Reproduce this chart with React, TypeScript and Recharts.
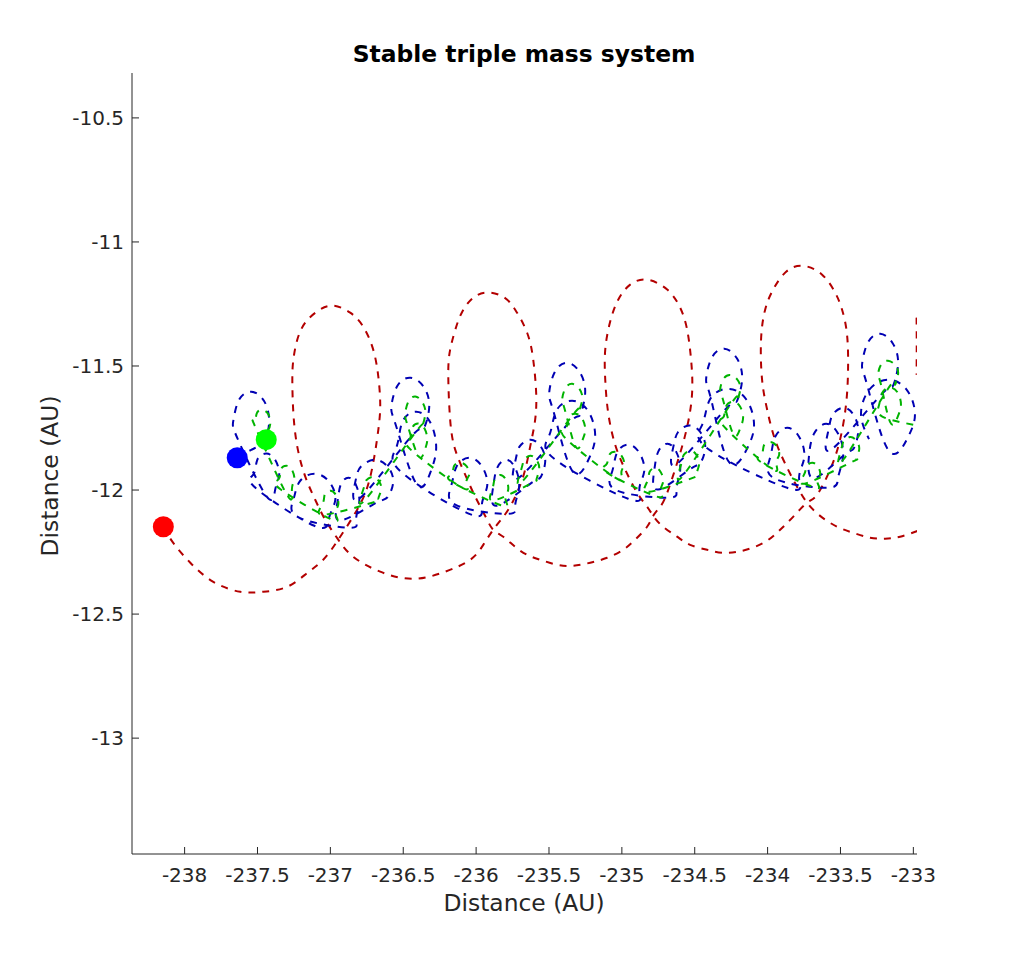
import { ScatterChart, Scatter, XAxis, YAxis } from "recharts"

const xTicks = [-238, -237.5, -237, -236.5, -236, -235.5, -235, -234.5, -234, -233.5, -233]
const yTicks = [-13, -12.5, -12, -11.5, -11, -10.5]

// positions in AU
const redStart = [[-238.146, -12.148]]
const blueStart = [[-237.639, -11.87]]
const greenStart = [[-237.44, -11.797]]

const redPath = [
  [-238.146, -12.148], [-238.078, -12.213], [-237.961, -12.293], [-237.803, -12.37], [-237.618, -12.41],
  [-237.46, -12.41], [-237.296, -12.39], [-237.158, -12.334], [-237.049, -12.281], [-236.946, -12.2],
  [-236.816, -12.079], [-236.726, -11.946], [-236.671, -11.757], [-236.658, -11.648], [-236.671, -11.543],
  [-236.706, -11.434], [-236.774, -11.342], [-236.864, -11.285], [-236.98, -11.257], [-237.083, -11.277],
  [-237.172, -11.325], [-237.227, -11.394], [-237.254, -11.475], [-237.261, -11.555], [-237.254, -11.688],
  [-237.227, -11.825], [-237.172, -11.946], [-237.104, -12.039], [-237.035, -12.12], [-236.946, -12.2],
  [-236.843, -12.269], [-236.658, -12.329], [-236.431, -12.358], [-236.212, -12.329], [-236.04, -12.281],
  [-235.951, -12.221], [-235.883, -12.16], [-235.814, -12.108], [-235.752, -12.051], [-235.677, -11.946],
  [-235.629, -11.825], [-235.595, -11.717], [-235.588, -11.608], [-235.608, -11.475], [-235.65, -11.366],
  [-235.732, -11.273], [-235.814, -11.221], [-235.924, -11.204], [-236.02, -11.225], [-236.095, -11.281],
  [-236.143, -11.354], [-236.178, -11.434], [-236.191, -11.535], [-236.178, -11.717], [-236.143, -11.838],
  [-236.075, -11.938], [-236.006, -12.027], [-235.931, -12.112], [-235.883, -12.16], [-235.814, -12.188],
  [-235.732, -12.229], [-235.65, -12.261], [-235.56, -12.281], [-235.444, -12.301], [-235.334, -12.305],
  [-235.217, -12.293], [-235.101, -12.273], [-234.991, -12.241], [-234.909, -12.2], [-234.827, -12.148],
  [-234.785, -12.104], [-234.737, -12.067], [-234.689, -12.011], [-234.614, -11.878], [-234.552, -11.745],
  [-234.518, -11.608], [-234.525, -11.475], [-234.552, -11.354], [-234.6, -11.265], [-234.689, -11.192],
  [-234.827, -11.152], [-234.943, -11.172], [-235.025, -11.233], [-235.08, -11.321], [-235.114, -11.434],
  [-235.114, -11.555], [-235.094, -11.688], [-235.046, -11.817], [-234.977, -11.918], [-234.895, -12.011],
  [-234.827, -12.067], [-234.785, -12.104], [-234.717, -12.148], [-234.621, -12.188], [-234.532, -12.221],
  [-234.415, -12.241], [-234.312, -12.253], [-234.209, -12.249], [-234.106, -12.233], [-234.003, -12.204],
  [-233.914, -12.16], [-233.825, -12.108], [-233.729, -12.051], [-233.661, -12.019], [-233.571, -11.918],
  [-233.503, -11.797], [-233.462, -11.656], [-233.448, -11.515], [-233.455, -11.374], [-233.489, -11.273],
  [-233.537, -11.204], [-233.626, -11.132], [-233.757, -11.096], [-233.873, -11.12], [-233.962, -11.192],
  [-234.017, -11.273], [-234.045, -11.394], [-234.038, -11.555], [-234.003, -11.676], [-233.949, -11.797],
  [-233.866, -11.91], [-233.798, -11.987], [-233.729, -12.051], [-233.64, -12.104], [-233.523, -12.148],
  [-233.414, -12.172], [-233.297, -12.192], [-233.194, -12.196], [-233.091, -12.188], [-232.968, -12.164],
]

// bit of the next red loop that shows at the right edge
const redEdge = [[-232.978, -11.305], [-232.977, -11.414], [-232.978, -11.535]]

const bluePath = [
  [-237.639, -11.87],
  [-237.543, -11.838], [-237.457, -11.803], [-237.42, -11.721], [-237.457, -11.639], [-237.543, -11.604], [-237.629, -11.639], [-237.666, -11.721], [-237.629, -11.803],
  [-237.44, -12.023], [-237.378, -11.997], [-237.351, -11.938], [-237.378, -11.879], [-237.44, -11.853], [-237.502, -11.879], [-237.529, -11.938], [-237.502, -11.997],
  [-237.11, -12.144], [-237.009, -12.112], [-236.966, -12.039], [-237.009, -11.966], [-237.11, -11.934], [-237.211, -11.966], [-237.254, -12.039], [-237.211, -12.112],
  [-236.877, -12.152], [-236.824, -12.122], [-236.802, -12.051], [-236.824, -11.98], [-236.877, -11.95], [-236.93, -11.98], [-236.952, -12.051], [-236.93, -12.122],
  [-236.699, -12.056], [-236.608, -12.029], [-236.569, -11.967], [-236.608, -11.905], [-236.699, -11.878], [-236.79, -11.905], [-236.829, -11.967], [-236.79, -12.029],
  [-236.452, -11.789], [-236.361, -11.753], [-236.322, -11.668], [-236.361, -11.583], [-236.452, -11.547], [-236.543, -11.583], [-236.582, -11.668], [-236.543, -11.753],
  [-236.411, -11.974], [-236.315, -11.931], [-236.274, -11.829], [-236.315, -11.727], [-236.411, -11.684], [-236.507, -11.727], [-236.548, -11.829], [-236.507, -11.931],
  [-236.047, -12.096], [-235.961, -12.062], [-235.924, -11.983], [-235.961, -11.904], [-236.047, -11.87], [-236.133, -11.904], [-236.171, -11.983], [-236.133, -12.062],
  [-235.794, -12.096], [-235.732, -12.063], [-235.705, -11.987], [-235.732, -11.911], [-235.794, -11.878], [-235.856, -11.911], [-235.883, -11.987], [-235.856, -12.063],
  [-235.629, -11.975], [-235.557, -11.948], [-235.526, -11.886], [-235.557, -11.824], [-235.629, -11.797], [-235.701, -11.824], [-235.732, -11.886], [-235.701, -11.948],
  [-235.375, -11.737], [-235.289, -11.7], [-235.252, -11.612], [-235.289, -11.525], [-235.375, -11.487], [-235.461, -11.525], [-235.499, -11.612], [-235.461, -11.7],
  [-235.341, -11.922], [-235.231, -11.88], [-235.183, -11.781], [-235.231, -11.682], [-235.341, -11.64], [-235.451, -11.682], [-235.499, -11.781], [-235.451, -11.88],
  [-234.957, -12.035], [-234.88, -12.002], [-234.847, -11.926], [-234.88, -11.85], [-234.957, -11.817], [-235.034, -11.85], [-235.067, -11.926], [-235.034, -12.002],
  [-234.689, -12.031], [-234.627, -11.998], [-234.6, -11.922], [-234.627, -11.846], [-234.689, -11.813], [-234.751, -11.846], [-234.778, -11.922], [-234.751, -11.998],
  [-234.538, -11.918], [-234.461, -11.891], [-234.428, -11.829], [-234.461, -11.767], [-234.538, -11.74], [-234.615, -11.767], [-234.648, -11.829], [-234.615, -11.891],
  [-234.298, -11.68], [-234.212, -11.643], [-234.175, -11.555], [-234.212, -11.468], [-234.298, -11.43], [-234.384, -11.468], [-234.422, -11.555], [-234.384, -11.643],
  [-234.271, -11.882], [-234.146, -11.839], [-234.093, -11.737], [-234.146, -11.635], [-234.271, -11.592], [-234.396, -11.635], [-234.449, -11.737], [-234.396, -11.839],
  [-233.866, -11.991], [-233.784, -11.955], [-233.749, -11.87], [-233.784, -11.785], [-233.866, -11.749], [-233.948, -11.785], [-233.983, -11.87], [-233.948, -11.955],
  [-233.599, -11.991], [-233.517, -11.952], [-233.482, -11.862], [-233.517, -11.772], [-233.599, -11.733], [-233.681, -11.772], [-233.716, -11.862], [-233.681, -11.952],
  [-233.482, -11.862], [-233.41, -11.833], [-233.379, -11.765], [-233.41, -11.697], [-233.482, -11.668], [-233.554, -11.697], [-233.585, -11.765], [-233.554, -11.833],
  [-233.228, -11.62], [-233.142, -11.583], [-233.105, -11.495], [-233.142, -11.408], [-233.228, -11.37], [-233.314, -11.408], [-233.352, -11.495], [-233.314, -11.583],
  [-233.174, -11.837], [-233.044, -11.795], [-232.989, -11.696], [-233.044, -11.597], [-233.174, -11.555], [-233.304, -11.597], [-233.359, -11.696], [-233.304, -11.795],
]

const greenPath = [
  [-237.44, -11.797],
  [-237.467, -11.773], [-237.429, -11.759], [-237.412, -11.725], [-237.429, -11.691], [-237.467, -11.677], [-237.505, -11.691], [-237.522, -11.725], [-237.505, -11.759],
  [-237.302, -12.015], [-237.264, -11.998], [-237.247, -11.958], [-237.264, -11.918], [-237.302, -11.902], [-237.34, -11.918], [-237.357, -11.958], [-237.34, -11.998],
  [-237.001, -12.116], [-236.963, -12.099], [-236.946, -12.059], [-236.963, -12.019], [-237.001, -12.003], [-237.039, -12.019], [-237.056, -12.059], [-237.039, -12.099],
  [-236.713, -12.051], [-236.67, -12.036], [-236.651, -11.999], [-236.67, -11.962], [-236.713, -11.947], [-236.756, -11.962], [-236.775, -11.999], [-236.756, -12.036],
  [-236.418, -11.769], [-236.37, -11.747], [-236.349, -11.696], [-236.37, -11.645], [-236.418, -11.623], [-236.466, -11.645], [-236.487, -11.696], [-236.466, -11.747],
  [-236.397, -11.862], [-236.354, -11.842], [-236.335, -11.797], [-236.354, -11.752], [-236.397, -11.732], [-236.44, -11.752], [-236.459, -11.797], [-236.44, -11.842],
  [-236.109, -11.986], [-236.066, -11.972], [-236.047, -11.938], [-236.066, -11.904], [-236.109, -11.89], [-236.152, -11.904], [-236.171, -11.938], [-236.152, -11.972],
  [-235.835, -12.06], [-235.797, -12.041], [-235.78, -11.999], [-235.797, -11.957], [-235.835, -11.939], [-235.873, -11.957], [-235.89, -11.999], [-235.873, -12.041],
  [-235.629, -11.975], [-235.586, -11.958], [-235.567, -11.918], [-235.586, -11.878], [-235.629, -11.862], [-235.672, -11.878], [-235.691, -11.918], [-235.672, -11.958],
  [-235.341, -11.701], [-235.293, -11.681], [-235.272, -11.636], [-235.293, -11.591], [-235.341, -11.572], [-235.389, -11.591], [-235.41, -11.636], [-235.389, -11.681],
  [-235.32, -11.822], [-235.272, -11.802], [-235.251, -11.757], [-235.272, -11.712], [-235.32, -11.692], [-235.368, -11.712], [-235.389, -11.757], [-235.368, -11.802],
  [-235.046, -11.95], [-235.003, -11.935], [-234.984, -11.898], [-235.003, -11.861], [-235.046, -11.846], [-235.089, -11.861], [-235.108, -11.898], [-235.089, -11.935],
  [-234.772, -12.024], [-234.734, -12.007], [-234.717, -11.967], [-234.734, -11.927], [-234.772, -11.911], [-234.81, -11.927], [-234.827, -11.967], [-234.81, -12.007],
  [-234.532, -11.955], [-234.489, -11.938], [-234.47, -11.898], [-234.489, -11.858], [-234.532, -11.842], [-234.575, -11.858], [-234.594, -11.898], [-234.575, -11.938],
  [-234.257, -11.657], [-234.209, -11.638], [-234.188, -11.596], [-234.209, -11.554], [-234.257, -11.536], [-234.305, -11.554], [-234.326, -11.596], [-234.305, -11.638],
  [-234.237, -11.773], [-234.189, -11.753], [-234.168, -11.708], [-234.189, -11.663], [-234.237, -11.644], [-234.285, -11.663], [-234.306, -11.708], [-234.285, -11.753],
  [-233.983, -11.91], [-233.94, -11.895], [-233.921, -11.858], [-233.94, -11.821], [-233.983, -11.806], [-234.026, -11.821], [-234.045, -11.858], [-234.026, -11.895],
  [-233.695, -11.986], [-233.657, -11.972], [-233.64, -11.938], [-233.657, -11.904], [-233.695, -11.89], [-233.733, -11.904], [-233.75, -11.938], [-233.733, -11.972],
  [-233.434, -11.89], [-233.391, -11.875], [-233.372, -11.838], [-233.391, -11.801], [-233.434, -11.786], [-233.477, -11.801], [-233.496, -11.838], [-233.477, -11.875],
  [-233.174, -11.592], [-233.126, -11.575], [-233.105, -11.535], [-233.126, -11.495], [-233.174, -11.479], [-233.222, -11.495], [-233.243, -11.535], [-233.222, -11.575],
  [-233.16, -11.725], [-233.107, -11.704], [-233.085, -11.656], [-233.107, -11.608], [-233.16, -11.587], [-233.213, -11.608], [-233.235, -11.656], [-233.213, -11.704],
  [-232.97, -11.74],
]

const AXIS = "#262626"
const FONT = "DejaVu Sans"
const DASH = "7 7"

const toPts = (arr: number[][]) => arr.map(([x, y]) => ({ x, y }))

const noDot = () => <g />

const dot = (color: string) => (props: any) => (
  <circle cx={props.cx} cy={props.cy} r={10.5} fill={color} />
)

function XTick(props: any) {
  const { x, y, payload } = props
  return (
    <g>
      <line x1={x} y1={y} x2={x} y2={y - 7} stroke={AXIS} />
      <text x={x} y={y + 28} textAnchor="middle" fontSize={20} fontFamily={FONT} fill={AXIS}>
        {payload.value}
      </text>
    </g>
  )
}

function YTick(props: any) {
  const { x, y, payload } = props
  return (
    <g>
      <line x1={x} y1={y} x2={x + 7} y2={y} stroke={AXIS} />
      <text x={x - 8} y={y} dy="0.36em" textAnchor="end" fontSize={20} fontFamily={FONT} fill={AXIS}>
        {payload.value}
      </text>
    </g>
  )
}

export default function App() {
  return (
    <div style={{ position: "relative", width: 1000, height: 945, background: "#fff" }}>
      <ScatterChart width={1000} height={945} margin={{ top: 65, right: 91, bottom: 39, left: 44 }}>
        <XAxis
          type="number"
          dataKey="x"
          domain={[-238.361, -232.975]}
          ticks={xTicks}
          interval={0}
          allowDataOverflow
          height={60}
          tickSize={0}
          tickMargin={0}
          tickLine={false}
          tick={<XTick />}
          axisLine={{ stroke: AXIS }}
        />
        <YAxis
          type="number"
          dataKey="y"
          domain={[-13.467, -10.319]}
          ticks={yTicks}
          interval={0}
          allowDataOverflow
          width={80}
          tickSize={0}
          tickMargin={0}
          tickLine={false}
          tick={<YTick />}
          axisLine={{ stroke: AXIS }}
        />
        <Scatter
          data={toPts(redPath)}
          fill="#b30000"
          line={{ stroke: "#b30000", strokeWidth: 2, strokeDasharray: DASH }}
          lineJointType="natural"
          shape={noDot}
          isAnimationActive={false}
        />
        <Scatter
          data={toPts(redEdge)}
          fill="#b30000"
          line={{ stroke: "#b30000", strokeWidth: 2, strokeDasharray: DASH }}
          lineJointType="natural"
          shape={noDot}
          isAnimationActive={false}
        />
        <Scatter
          data={toPts(bluePath)}
          fill="#0000b3"
          line={{ stroke: "#0000b3", strokeWidth: 2, strokeDasharray: DASH }}
          lineJointType="natural"
          shape={noDot}
          isAnimationActive={false}
        />
        <Scatter
          data={toPts(greenPath)}
          fill="#00b300"
          line={{ stroke: "#00b300", strokeWidth: 2, strokeDasharray: DASH }}
          lineJointType="natural"
          shape={noDot}
          isAnimationActive={false}
        />
        <Scatter data={toPts(redStart)} fill="#ff0000" shape={dot("#ff0000")} isAnimationActive={false} />
        <Scatter data={toPts(blueStart)} fill="#0000ff" shape={dot("#0000ff")} isAnimationActive={false} />
        <Scatter data={toPts(greenStart)} fill="#00ff00" shape={dot("#00ff00")} isAnimationActive={false} />
      </ScatterChart>
      <svg
        width={1000}
        height={945}
        style={{ position: "absolute", left: 0, top: 0, pointerEvents: "none" }}
      >
        <text x={516} y={54} textAnchor="middle" fontSize={23.4} fontWeight="bold" fontFamily={FONT} fill="#000">
          Stable triple mass system
        </text>
        <text x={516} y={903} textAnchor="middle" fontSize={23.4} fontFamily={FONT} fill={AXIS}>
          Distance (AU)
        </text>
        <text
          transform="translate(50,468) rotate(-90)"
          textAnchor="middle"
          fontSize={23.4}
          fontFamily={FONT}
          fill={AXIS}
        >
          Distance (AU)
        </text>
      </svg>
    </div>
  )
}
